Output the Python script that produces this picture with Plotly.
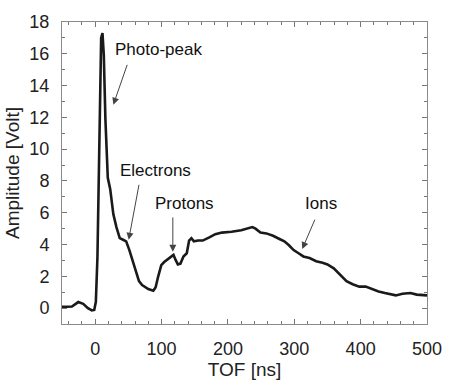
import plotly.graph_objects as go

tof_ns = [-50, -35, -25.5, -18, -11, -5, -1.4, 1, 3.4, 6.7, 9, 11, 13, 15.4, 19, 22.6, 27.4, 32, 37, 42,
          46.7, 51.5, 56.3, 61, 66, 70.7, 80, 87.6, 91, 95, 99.6, 104, 109, 114, 118, 121, 124.6, 128.5,
          133, 138, 141.5, 145, 148.7, 155, 162, 172, 181, 191, 205.5, 220, 229.5, 236.8, 241.6, 249,
          258, 268, 277.7, 285, 292, 299, 306.5, 313.7, 323, 333, 342.6, 350, 359.5, 369, 378.7, 388,
          398, 407.6, 417, 427, 436.5, 446, 453, 463, 475, 484.6, 494, 500]
amplitude_v = [0.08, 0.1, 0.38, 0.27, 0.0, -0.15, -0.12, 0.4, 3.2, 11.0, 17.0, 17.3, 15.9, 11.9, 8.2, 7.5,
               5.9, 5.1, 4.4, 4.3, 4.2, 3.65, 3.0, 2.4, 1.7, 1.45, 1.2, 1.1, 1.3, 2.0, 2.7, 2.9, 3.05,
               3.25, 3.35, 3.05, 2.75, 2.8, 3.25, 3.45, 4.25, 4.4, 4.2, 4.25, 4.25, 4.45, 4.65, 4.75,
               4.8, 4.9, 5.0, 5.1, 5.0, 4.75, 4.7, 4.55, 4.35, 4.2, 3.95, 3.65, 3.45, 3.25, 3.15, 2.95,
               2.85, 2.75, 2.5, 2.1, 1.7, 1.5, 1.35, 1.35, 1.2, 1.05, 0.95, 0.85, 0.8, 0.9, 0.95, 0.85,
               0.8, 0.8]

labels = ["Photo-peak", "Electrons", "Protons", "Ions"]
label_xy = [(95, 16.3), (91, 8.65), (134, 6.55), (340.5, 6.55)]
arrow_tail = [(49, 15.4), (66.4, 7.85), (117, 5.8), (332, 5.66)]
arrow_head = [(27.4, 12.8), (50.5, 4.3), (117, 3.55), (312, 3.72)]

fig = go.Figure()
fig.add_trace(go.Scatter(x=tof_ns, y=amplitude_v, mode="lines",
                         line=dict(color="#1a1a1a", width=2.6),
                         showlegend=False, hoverinfo="skip"))

font_main = "Liberation Sans, Arial, Helvetica, sans-serif"
for lab, (lx, ly) in zip(labels, label_xy):
    fig.add_annotation(x=lx, y=ly, text=lab, showarrow=False,
                       font=dict(family=font_main, size=17, color="#111"),
                       xanchor="center", yanchor="middle")
for (tx, ty), (hx, hy) in zip(arrow_tail, arrow_head):
    fig.add_annotation(x=hx, y=hy, ax=tx, ay=ty, axref="x", ayref="y", xref="x", yref="y",
                       text="", showarrow=True, arrowhead=2, arrowsize=1.4, arrowwidth=1,
                       arrowcolor="#444")

axis_common = dict(showline=True, linecolor="#8a8a8a", linewidth=1, mirror="allticks",
                   ticks="inside", ticklen=5, tickcolor="#777", showgrid=False, zeroline=False,
                   tickfont=dict(family=font_main, size=18, color="#222"),
                   ticklabelstandoff=8)

fig.update_xaxes(range=[-50, 500], tickvals=[0, 100, 200, 300, 400, 500],
                 minor=dict(dtick=20, tick0=0, ticks="inside", ticklen=3, tickcolor="#777"),
                 title=dict(text="TOF [ns]", font=dict(family=font_main, size=19, color="#222"),
                            standoff=4),
                 **axis_common)
fig.update_yaxes(range=[-1, 18], tickvals=[0, 2, 4, 6, 8, 10, 12, 14, 16, 18],
                 minor=dict(dtick=1, tick0=0, ticks="inside", ticklen=3, tickcolor="#777"),
                 title=dict(text="Amplitude [Volt]", font=dict(family=font_main, size=19, color="#222"),
                            standoff=4),
                 **axis_common)

fig.update_layout(width=454, height=388, margin=dict(l=56, r=17, t=14, b=51),
                  plot_bgcolor="white", paper_bgcolor="white")
fig.write_html("out.html")
